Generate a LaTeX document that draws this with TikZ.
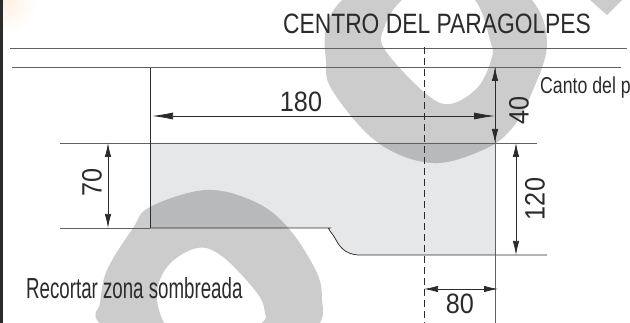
\documentclass[tikz,border=0pt]{standalone}
\usepackage{fontspec}
\setmainfont[FakeStretch=0.9]{Liberation Sans}
\newfontfamily\titlefont[FakeStretch=0.815]{Liberation Sans}
\newfontfamily\notefont[FakeStretch=0.645]{Liberation Sans}
\newfontfamily\cantofont[FakeStretch=0.77]{Liberation Sans}
\usetikzlibrary{arrows.meta}
\definecolor{wm}{HTML}{CCCCCC}
\definecolor{wmd}{HTML}{B8B9BB}
\definecolor{zonegrey}{HTML}{E6E7E8}
\definecolor{ink}{HTML}{2B2B2B}
\def\wmpaths{
 plot[smooth cycle,tension=0.6] coordinates{(342,0)(326,30)(326,60)(332,90)(377,142)(433,163)(487,148)(513,127)(530,97)(547,45)(532,0)(480,-40)(400,-45)}
 plot[smooth cycle,tension=0.6] coordinates{(402,0)(384,28)(385,50)(425,93)(450,104)(478,87)(492,57)(490,40)(475,0)(440,-20)}
 plot[smooth cycle,tension=0.6] coordinates{(99,323)(100,303)(107,270)(133,228)(150,207)(207,190)(257,203)(290,230)(317,273)(322,300)(320,323)(290,370)(150,370)}
 plot[smooth cycle,tension=0.6] coordinates{(157,300)(167,267)(197,248)(223,257)(257,293)(265,313)(262,323)(230,350)(175,335)}
 (590,0) -- (607,15) -- (622,0) -- (622,-5) -- (590,-5) -- cycle
}
\tikzset{
 thin line/.style={draw=ink,line width=0.75pt},
 grey line/.style={draw=black!62,line width=0.9pt},
 dim/.style={draw=ink,line width=0.75pt,{Latex[length=14pt,width=6.5pt]}-{Latex[length=14pt,width=6.5pt]}},
 dimlong/.style={draw=ink,line width=0.75pt,{Latex[length=21pt,width=7pt]}-{Latex[length=21pt,width=7pt]}},
 lab/.style={inner sep=0pt,text=ink,font=\fontsize{28}{28}\selectfont},
}
\begin{document}
\begin{tikzpicture}[x=1pt,y=-1pt]
\useasboundingbox (0,0) rectangle (630,323);
\clip (0,0) rectangle (630,323);
% corner tint
\shade[inner color=orange!12,outer color=white] (4,0) circle (34);
% shaded zone
\coordinate (a) at (150,143);
\coordinate (b) at (495,143);
\coordinate (c) at (495,255);
\coordinate (d) at (358,255);
\coordinate (e) at (330,228);
\coordinate (f) at (150,228);
\def\zone{(a) -- (b) -- (c) -- (d) .. controls (345,254) and (340,247) .. (336,240) .. controls (332,232) and (326,228) .. (e) -- (f) -- cycle}
\fill[zonegrey] \zone;
% watermark
\fill[wm,even odd rule] \wmpaths;
\begin{scope}
\clip \zone;
\fill[wmd,even odd rule] \wmpaths;
\end{scope}
% reference lines
\coordinate (t1) at (10,48); \coordinate (t2) at (627,48);
\coordinate (u1) at (12,67); \coordinate (u2) at (621,67);
\coordinate (v1) at (150,68);
\coordinate (w1) at (60,143); \coordinate (w2) at (537,143);
\coordinate (x1) at (60,228);
\coordinate (y2) at (547,255);
\coordinate (z1) at (495,67); \coordinate (z2) at (495,323);
\coordinate (q1) at (424,47); \coordinate (q2) at (424,323);
\coordinate (l1) at (1.8,0); \coordinate (l2) at (1.8,323);
\draw[draw=ink,line width=2.6pt] (l1) -- (l2);
\draw[grey line] (t1) -- (t2);
\draw[grey line] (u1) -- (u2);
\draw[grey line] (w1) -- (w2);
\draw[grey line] (x1) -- (f);
\draw[thin line] (v1) -- (f);
\draw[thin line] (f) -- (e) .. controls (326,228) and (332,232) .. (336,240) .. controls (340,247) and (345,254) .. (d) -- (y2);
\draw[grey line] (z1) -- (z2);
\draw[thin line,dash pattern=on 7pt off 4pt] (q1) -- (q2);
% dimensions
\coordinate (d180a) at (152,116); \coordinate (d180b) at (495,116);
\coordinate (d40a) at (495,67); \coordinate (d40b) at (495,143);
\coordinate (d70a) at (108,143); \coordinate (d70b) at (108,228);
\coordinate (d120a) at (516,143); \coordinate (d120b) at (516,255);
\coordinate (d80a) at (424,289); \coordinate (d80b) at (498,289);
\draw[dimlong] (d180a) -- (d180b);
\draw[dim] (d40a) -- (d40b);
\draw[dim] (d70a) -- (d70b);
\draw[dim] (d120a) -- (d120b);
\draw[dim] (d80a) -- (d80b);
% labels
\node[lab,font=\fontsize{28}{28}\titlefont] (title) at (437,24) {CENTRO DEL PARAGOLPES};
\node[lab] (n180) at (301,102) {180};
\node[lab,rotate=90] (n40) at (519,110) {40};
\node[lab,rotate=90] (n70) at (92,182) {70};
\node[lab,rotate=90] (n120) at (535,199) {120};
\node[lab] (n80) at (460,304) {80};
\node[lab,anchor=west,font=\fontsize{23}{23}\cantofont] (canto) at (540,88) {Canto del p};
\node[lab,anchor=west,font=\fontsize{29}{29}\notefont] (recortar) at (26,288) {Recortar zona sombreada};
\end{tikzpicture}
\end{document}
